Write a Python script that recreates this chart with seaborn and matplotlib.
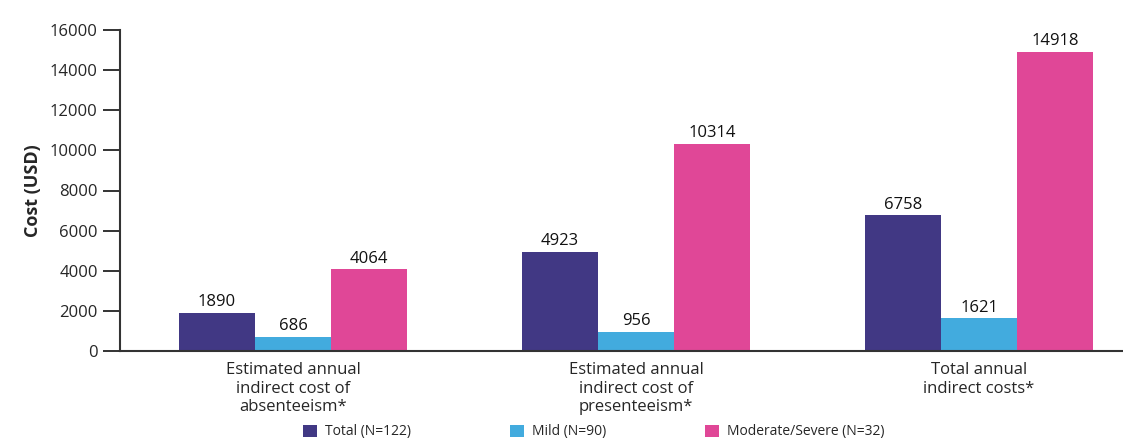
import matplotlib
matplotlib.use("Agg")
import matplotlib.pyplot as plt
import seaborn as sns
import pandas as pd
from matplotlib.patches import Patch

categories = [
    "Estimated annual\nindirect cost of\nabsenteeism*",
    "Estimated annual\nindirect cost of\npresenteeism*",
    "Total annual\nindirect costs*",
]
groups = ["Total (N=122)", "Mild (N=90)", "Moderate/Severe (N=32)"]
total_vals = [1890, 4923, 6758]
mild_vals = [686, 956, 1621]
modsev_vals = [4064, 10314, 14918]
yticks = [0, 2000, 4000, 6000, 8000, 10000, 12000, 14000, 16000]

colors = ["#413884", "#42ABDE", "#E04797"]

rows = []
for g, vals in zip(groups, [total_vals, mild_vals, modsev_vals]):
    for c, v in zip(categories, vals):
        rows.append({"category": c, "group": g, "cost": v})
df = pd.DataFrame(rows)

sns.set_style("white")
plt.rcParams["font.family"] = ["Open Sans", "DejaVu Sans"]

fig = plt.figure(figsize=(11.23, 4.42), dpi=100)
ax = fig.add_axes([120 / 1123, 1 - 351 / 442, 1 - 120 / 1123, (351 - 30) / 442])

sns.barplot(data=df, x="category", y="cost", hue="group", hue_order=groups,
            order=categories, palette=colors, width=0.666, gap=0,
            linewidth=0, saturation=1, legend=False, ax=ax)

for cont in ax.containers:
    ax.bar_label(cont, fmt="%d", padding=2, fontsize=12, color="#111111")

ax.set_ylim(0, 16000)
ax.set_xlim(-0.505, 2.42)
ax.set_yticks(yticks)
ax.set_yticklabels([str(t) for t in yticks], fontsize=12)
ax.set_xlabel("")
ax.set_ylabel("Cost (USD)", fontsize=13, fontweight="bold", labelpad=6)
ax.tick_params(axis="y", left=True, direction="out", length=12, width=1.4,
               color="#333333", pad=4)
ax.tick_params(axis="x", bottom=False, length=0, labelsize=12, pad=8)
for lbl in ax.get_xticklabels():
    lbl.set_linespacing(1.2)

for s in ["top", "right"]:
    ax.spines[s].set_visible(False)
for s in ["left", "bottom"]:
    ax.spines[s].set_color("#333333")
    ax.spines[s].set_linewidth(1.5)

handles = [Patch(facecolor=c, edgecolor="none") for c in colors]
fig.legend(handles, groups, loc="center", bbox_to_anchor=(594 / 1123, 1 - 432 / 442),
           ncol=3, frameon=False, fontsize=10, handlelength=1.0, handleheight=1.0,
           handletextpad=0.6, columnspacing=7.1)

fig.savefig("out.png", dpi=100)
